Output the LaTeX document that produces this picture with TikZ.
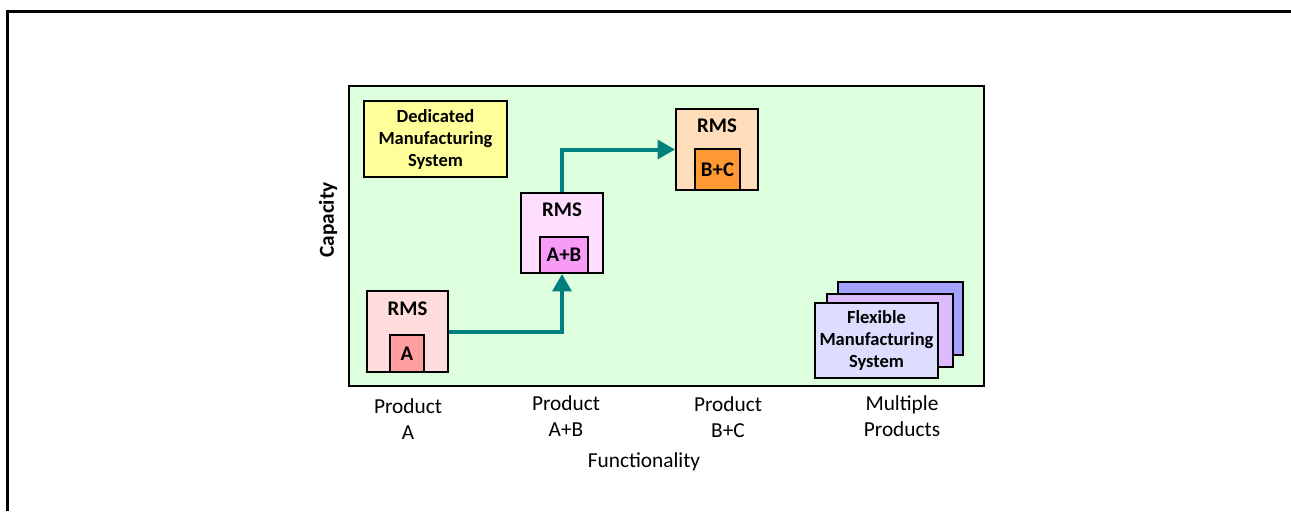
\documentclass[tikz,border=0pt]{standalone}
\usepackage{fontspec}
\setmainfont{Carlito}
\usetikzlibrary{arrows.meta}
\definecolor{panelgreen}{HTML}{DDFFDD}
\definecolor{dmsyellow}{HTML}{FFFF99}
\definecolor{rmsApale}{HTML}{FFDDDD}
\definecolor{rmsAdark}{HTML}{FF9F9F}
\definecolor{rmsABpale}{HTML}{FFDDFF}
\definecolor{rmsABdark}{HTML}{F79BF7}
\definecolor{rmsBCpale}{HTML}{FFDDBB}
\definecolor{rmsBCdark}{HTML}{FF9933}
\definecolor{fmsback}{HTML}{A3A3FF}
\definecolor{fmsmid}{HTML}{DDBBFF}
\definecolor{fmsfront}{HTML}{DDDDFF}
\definecolor{arrowteal}{HTML}{007F7F}
\newcommand\boxfont{\fontsize{13.9}{16.5}\selectfont\bfseries}
\newcommand\rmsfont{\fontsize{15.6}{18}\selectfont\bfseries}
\newcommand\axisfont{\fontsize{16}{19.5}\selectfont}
\tikzset{
  box/.style={draw, line width=1.5pt, inner sep=0pt, align=center, font=\boxfont},
  rmslabel/.style={font=\rmsfont, inner sep=0pt},
  axislabel/.style={font=\axisfont, align=center, inner sep=0pt},
  conn/.style={draw=arrowteal, line width=3pt, -{Triangle[length=13pt,width=14pt]}}
}

\begin{document}
\begin{tikzpicture}[x=0.75pt,y=-0.75pt]
			\useasboundingbox (0,0) rectangle (1291,511);
			\draw[line width=2.25pt] (7,511) -- (7,11) -- (1291,11);
			\node[box, fill=panelgreen, line width=1.8pt, minimum width=476.25pt, minimum height=225pt] (panel) at (666.5,236) {};
			% dedicated system
			\node[box, fill=dmsyellow, minimum width=107.25pt, minimum height=57pt] (dms) at (435.5,139) {Dedicated\\Manufacturing\\System};
			% reconfigurable systems
			\node[box, fill=rmsApale, minimum width=60.75pt, minimum height=60.75pt] (rmsA) at (407.5,331.5) {};
			\node[box, fill=rmsAdark, font=\rmsfont, minimum width=25.5pt, minimum height=27.75pt] (rmsAin) at (407,353.5) {A};
			\node[rmslabel] (rmsAtxt) at (407.5,308.5) {RMS};
			\node[box, fill=rmsABpale, minimum width=61.5pt, minimum height=60pt] (rmsAB) at (562,233) {};
			\node[box, fill=rmsABdark, font=\rmsfont, minimum width=36pt, minimum height=27pt] (rmsABin) at (564,255) {A+B};
			\node[rmslabel] (rmsABtxt) at (562,210) {RMS};
			\node[box, fill=rmsBCpale, minimum width=61.5pt, minimum height=60.75pt] (rmsBC) at (717,149.5) {};
			\node[box, fill=rmsBCdark, font=\rmsfont, minimum width=33.75pt, minimum height=30.75pt] (rmsBCin) at (717.5,169.5) {B+C};
			\node[rmslabel] (rmsBCtxt) at (717,126) {RMS};
			\draw[conn] (rmsA.east) -| (rmsAB.south);
			\draw[conn] (rmsAB.north) |- (rmsBC.west);
			% flexible system
			\node[box, fill=fmsback, minimum width=93.75pt, minimum height=54.75pt] (fmsback) at (900.5,318.5) {};
			\node[box, fill=fmsmid, minimum width=94.5pt, minimum height=54.75pt] (fmsmid) at (890,330.5) {};
			\node[box, fill=fmsfront, minimum width=92.25pt, minimum height=56.25pt] (fmsfront) at (876.5,340.5) {Flexible\\Manufacturing\\System};
			% axes
			\node[axislabel] (prodA) at (408,419) {Product\\A};
			\node[axislabel] (prodAB) at (566,416) {Product\\A+B};
			\node[axislabel] (prodBC) at (728,417) {Product\\B+C};
			\node[axislabel] (prodM) at (902,416) {Multiple\\Products};
			\node[axislabel] (func) at (644,462) {Functionality};
			\node[axislabel, font=\axisfont\bfseries, rotate=90] (cap) at (328,220) {Capacity};
		\end{tikzpicture}
\end{document}
